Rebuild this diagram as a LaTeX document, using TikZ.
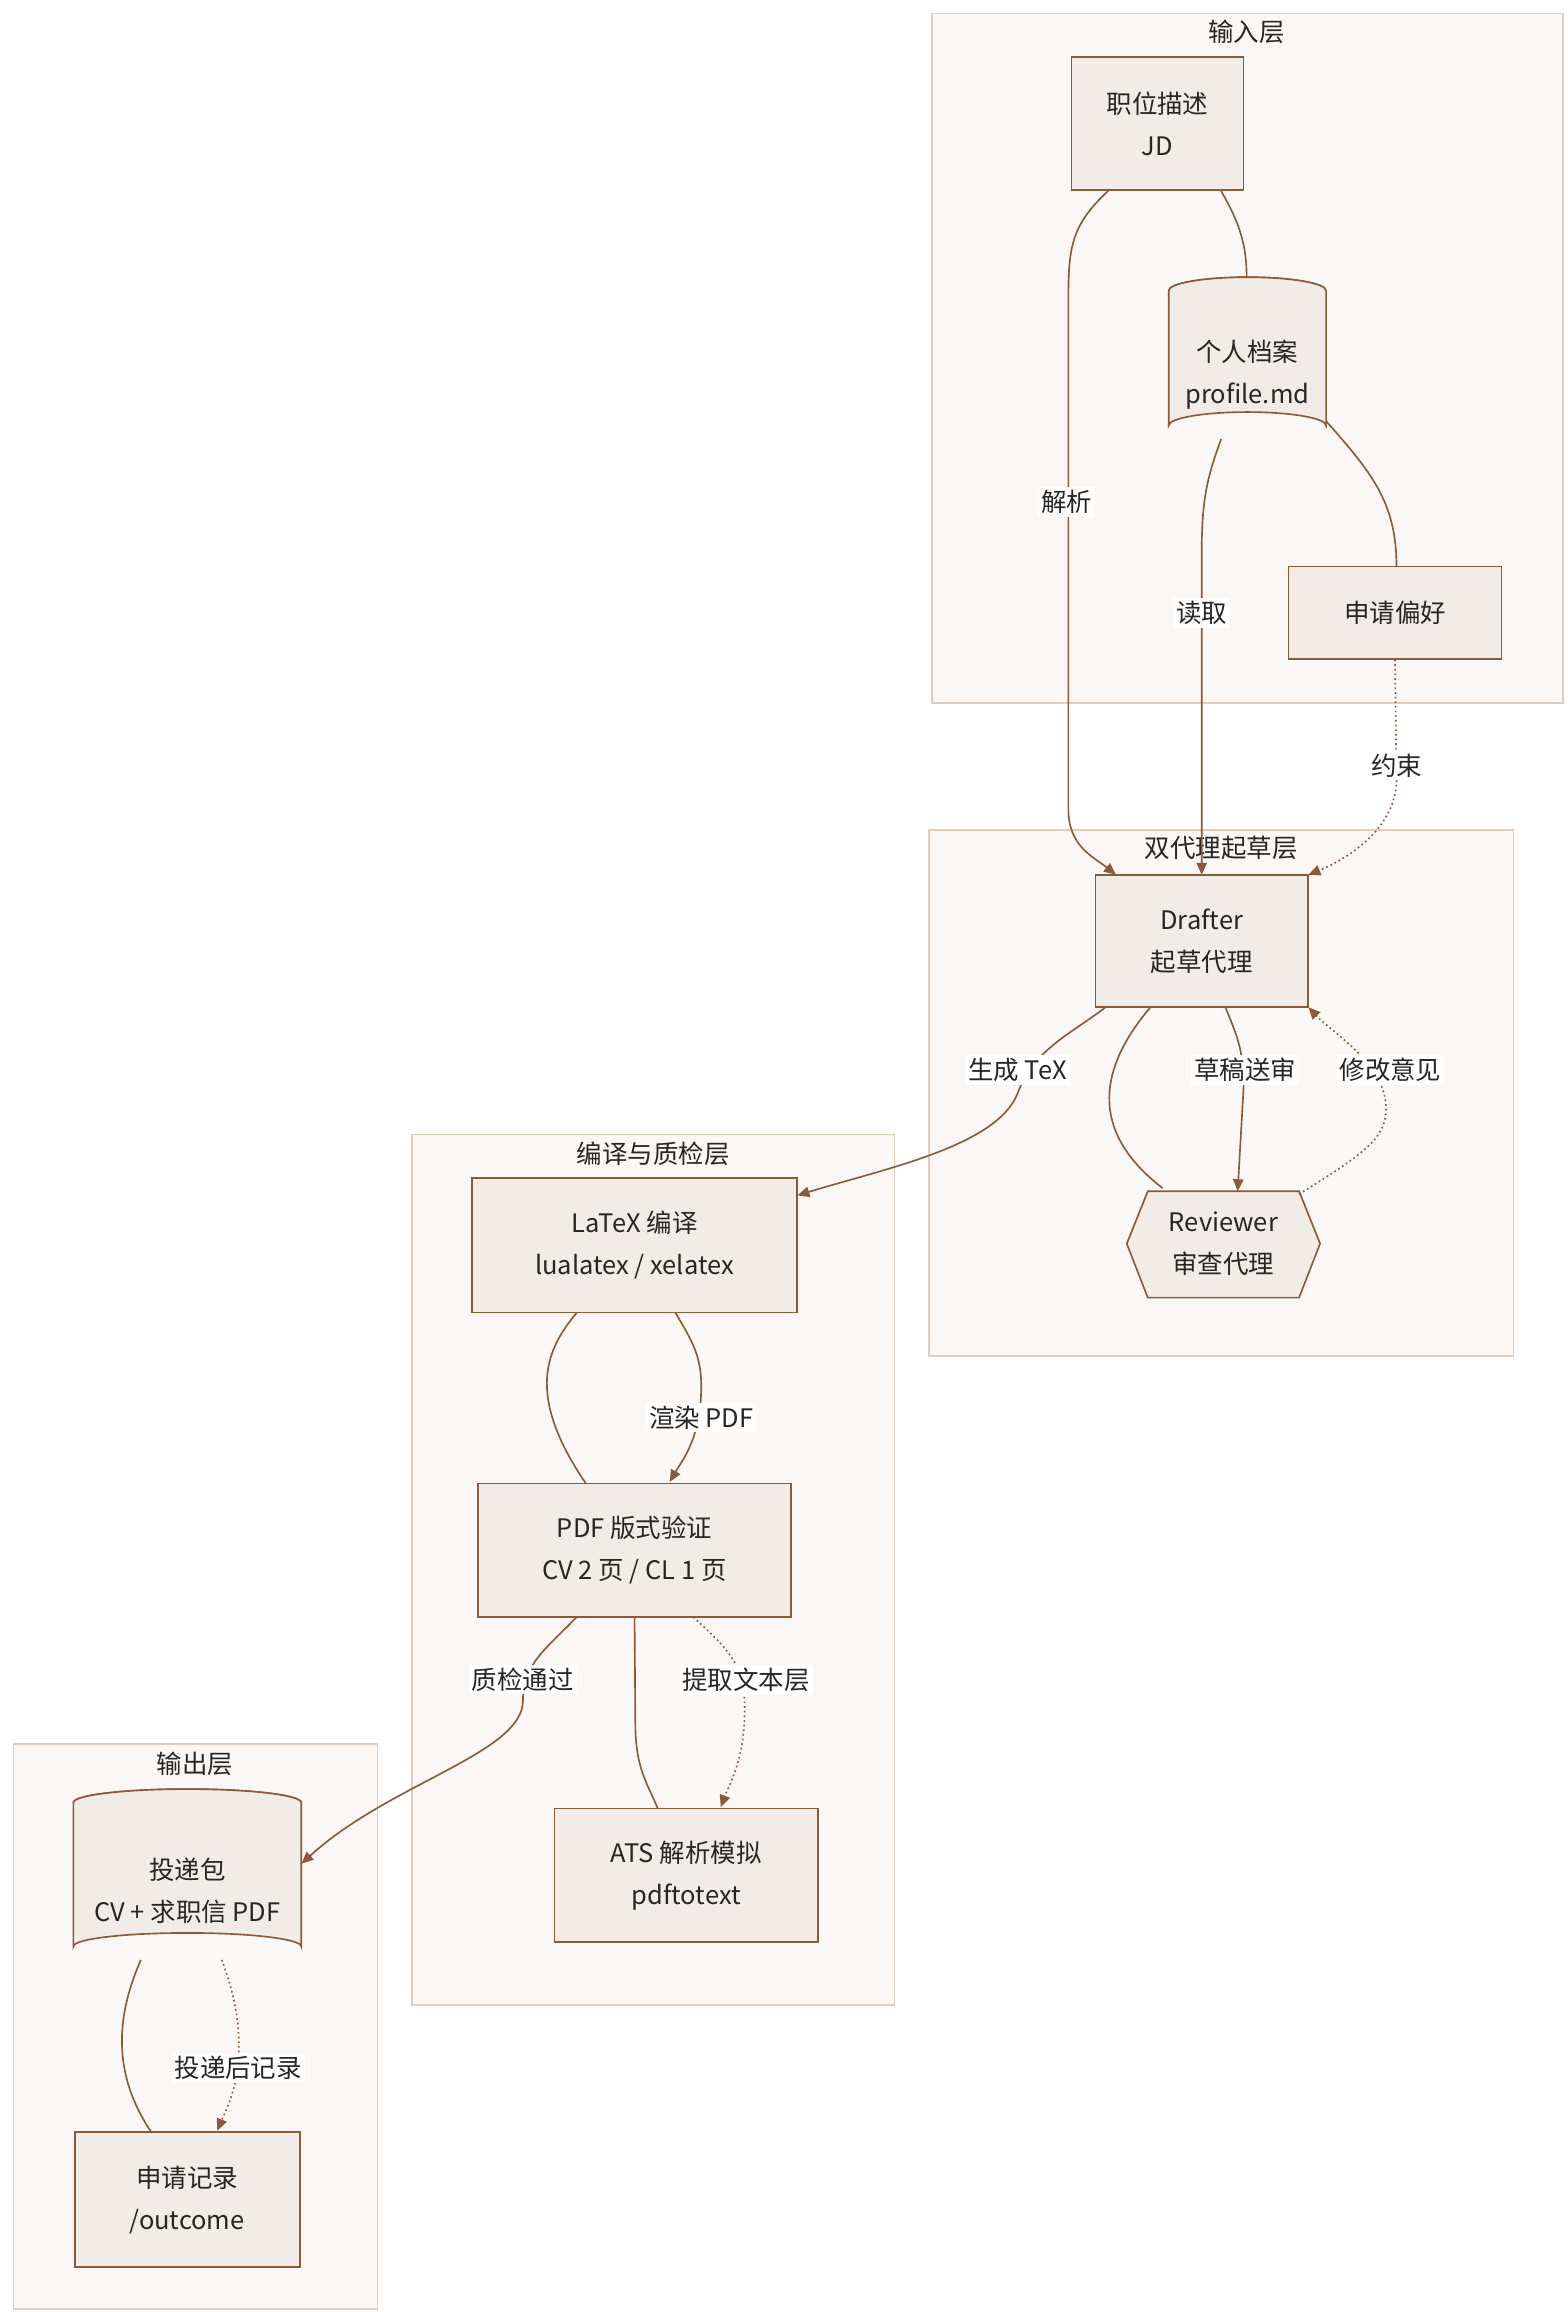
\documentclass[tikz,border=0pt]{standalone}
\usepackage{fontspec}
\setmainfont{Noto Sans CJK SC}
\usetikzlibrary{arrows.meta}
\definecolor{ln}{HTML}{8B5A3C}
\definecolor{nf}{HTML}{F2ECE6}
\definecolor{cf}{HTML}{FBF7F4}
\definecolor{cb}{HTML}{E0CFC0}
\begin{document}
\begin{tikzpicture}[x=1pt,y=-1pt,
  font=\fontsize{17}{28}\selectfont,
  clu/.style={draw=cb,fill=cf,line width=1pt},
  box/.style={draw=ln,fill=nf,line width=1.1pt},
  txt/.style={inner sep=0pt,align=center,text=black!85},
  ttl/.style={inner sep=0pt,text=black!85},
  lab/.style={fill=white,inner sep=2pt,text=black!85},
  e/.style={draw=ln,line width=1.1pt},
  a/.style={e,-{Triangle[length=8pt,width=7pt]}},
  d/.style={a,dotted}]
\useasboundingbox (0,0) rectangle (1046,1543);
% clusters
\draw[clu] (622,9) rectangle (1043,469);
\node[ttl] at (832,21) {输入层};
\draw[clu] (620,554) rectangle (1010,905);
\node[ttl] at (815,566) {双代理起草层};
\draw[clu] (275,757) rectangle (597,1338);
\node[ttl] at (436,770) {编译与质检层};
\draw[clu] (9,1164) rectangle (252,1541);
\node[ttl] at (130,1177) {输出层};
% nodes
\draw[box] (715,38) rectangle (830,127);
\node[txt] (jd) at (772.5,82.5) [minimum width=115pt,minimum height=89pt] {职位描述\\JD};
\draw[box] (780,194) -- (780,284) arc[x radius=52.5,y radius=9,start angle=180,end angle=360] -- (885,194) arc[x radius=52.5,y radius=9,start angle=0,end angle=-180] -- cycle;
\draw[box] (780,194) arc[x radius=52.5,y radius=9,start angle=180,end angle=360];
\node[txt] (prof) at (832.5,250) [minimum width=105pt,minimum height=86pt] {个人档案\\profile.md};
\draw[box] (860,378) rectangle (1002,440);
\node[txt] (pref) at (931,409) [minimum width=142pt,minimum height=62pt] {申请偏好};
\draw[box] (731,584) rectangle (873,672);
\node[txt] (dr) at (802,628) [minimum width=142pt,minimum height=88pt] {Drafter\\起草代理};
\draw[box] (752,830) -- (766,795) -- (867,795) -- (881,830) -- (867,866) -- (766,866) -- cycle;
\node[txt] (rv) at (816.5,830) [minimum width=129pt,minimum height=71pt] {Reviewer\\审查代理};
\draw[box] (315,786) rectangle (532,876);
\node[txt] (tex) at (423.5,831) [minimum width=217pt,minimum height=90pt] {LaTeX 编译\\lualatex / xelatex};
\draw[box] (319,990) rectangle (528,1079);
\node[txt] (pdf) at (423.5,1034.5) [minimum width=209pt,minimum height=89pt] {PDF 版式验证\\CV 2 页 / CL 1 页};
\draw[box] (370,1207) rectangle (546,1296);
\node[txt] (ats) at (458,1251.5) [minimum width=176pt,minimum height=89pt] {ATS 解析模拟\\pdftotext};
\draw[box] (49,1203) -- (49,1299) arc[x radius=76,y radius=9,start angle=180,end angle=360] -- (201,1203) arc[x radius=76,y radius=9,start angle=0,end angle=-180] -- cycle;
\draw[box] (49,1203) arc[x radius=76,y radius=9,start angle=180,end angle=360];
\node[txt] (pkg) at (125,1262) [minimum width=152pt,minimum height=92pt] {投递包\\CV + 求职信 PDF};
\draw[box] (50,1423) rectangle (200,1513);
\node[txt] (rec) at (125,1468) [minimum width=150pt,minimum height=90pt] {申请记录\\/outcome};
% edges
\draw[a] ([xshift=25pt]jd.south west) .. controls (715,150) and (713,165) .. (713,200) -- (713,540) .. controls (713,565) and (730,572) .. ([xshift=14pt]dr.north west);
\node[lab] at (712,335) {解析};
\draw[e] ([xshift=100pt]jd.south west) .. controls (825,145) and (832,160) .. (832,185);
\draw[a] (815,293) .. controls (805,320) and (802,335) .. (802,370) -- (dr.north);
\node[lab] at (802,409) {读取};
\draw[e] (885,281) .. controls (915,315) and (932,335) .. (932,378);
\draw[d] (pref.south) -- (932,520) .. controls (932,555) and (895,575) .. (dr.north east);
\node[lab] at (932,511) {约束};
\draw[a] ([xshift=7pt]dr.south west) .. controls (715,690) and (690,700) .. (679,730) .. controls (665,765) and (590,780) .. ([yshift=-12pt]tex.north east);
\node[lab] at (679,714) {生成 TeX};
\draw[e] ([xshift=37pt]dr.south west) .. controls (740,705) and (720,750) .. (776,793);
\draw[a] ([xshift=87pt]dr.south west) .. controls (825,690) and (830,700) .. (830,725) -- (826,795);
\node[lab] at (831,714) {草稿送审};
\draw[d] (867,797) .. controls (910,770) and (925,760) .. (925,740) .. controls (925,710) and (890,690) .. (dr.south east);
\node[lab] at (928,714) {修改意见};
\draw[e] ([xshift=70pt]tex.south west) .. controls (365,900) and (350,930) .. (391,990);
\draw[a] ([xshift=136pt]tex.south west) .. controls (462,895) and (468,905) .. (468,925) .. controls (468,960) and (455,975) .. (447,989);
\node[lab] at (468,946) {渲染 PDF};
\draw[a] ([xshift=66pt]pdf.south west) .. controls (365,1100) and (349,1110) .. (349,1135) .. controls (349,1170) and (260,1190) .. ([yshift=-28pt]pkg.north east);
\node[lab] at (349,1121) {质检通过};
\draw[e] (pdf.south) -- (424,1150) .. controls (424,1180) and (432,1190) .. (439,1207);
\draw[d] ([xshift=144pt]pdf.south west) .. controls (485,1100) and (497,1110) .. (497,1140) .. controls (497,1175) and (487,1190) .. (481,1206);
\node[lab] at (498,1121) {提取文本层};
\draw[e] (94,1308) .. controls (80,1340) and (72,1380) .. (101,1423);
\draw[d] (148,1308) .. controls (160,1340) and (160,1360) .. (159,1375) .. controls (158,1395) and (150,1410) .. (145,1422);
\node[lab] at (159,1380) {投递后记录};
\end{tikzpicture}
\end{document}
